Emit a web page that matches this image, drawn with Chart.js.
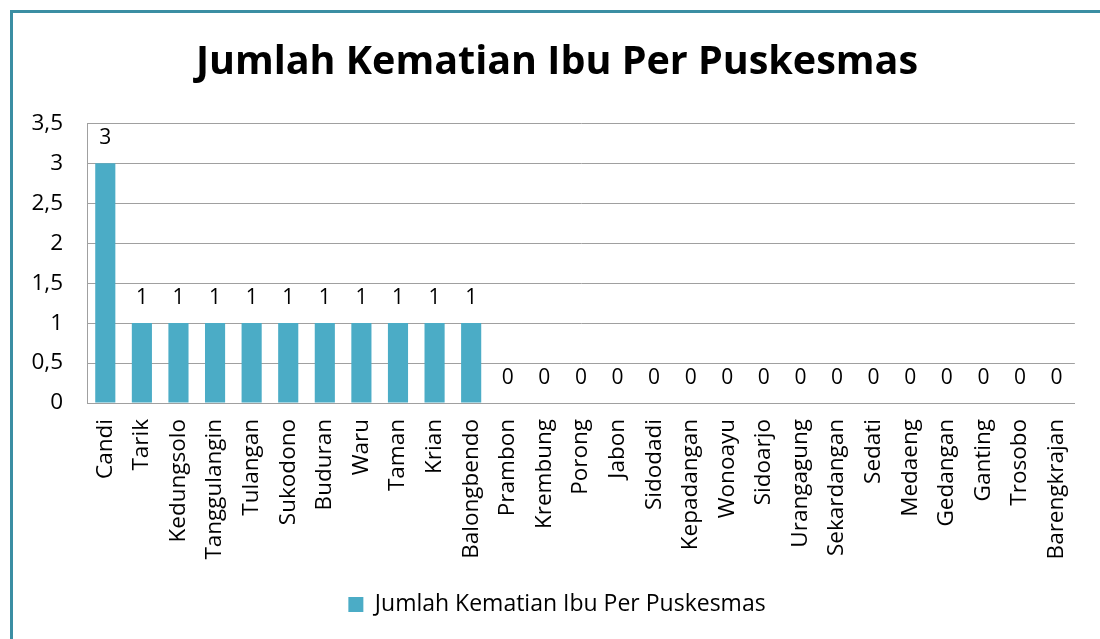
<!DOCTYPE html>
<html>
<head>
<meta charset="utf-8">
<script src="https://cdn.jsdelivr.net/npm/chart.js@4"></script>
<style>
  html, body { margin: 0; padding: 0; background: #fff; overflow: hidden; }
  #wrap { position: relative; width: 1100px; height: 639px; overflow: hidden; }
  #frame { position: absolute; left: 10px; top: 10px; width: 1200px; height: 800px; border: 3px solid #3b8ea3; box-sizing: border-box; }
  #myChart { position: absolute; left: 0; top: 0; }
</style>
</head>
<body>
<div id="wrap">
  <div id="frame"></div>
  <canvas id="myChart" width="1100" height="639"></canvas>
</div>
<script>
var labels = ['Candi', 'Tarik', 'Kedungsolo', 'Tanggulangin', 'Tulangan', 'Sukodono', 'Buduran', 'Waru', 'Taman', 'Krian', 'Balongbendo',
  'Prambon', 'Krembung', 'Porong', 'Jabon', 'Sidodadi', 'Kepadangan', 'Wonoayu', 'Sidoarjo', 'Urangagung', 'Sekardangan',
  'Sedati', 'Medaeng', 'Gedangan', 'Ganting', 'Trosobo', 'Barengkrajan']
var data = [3, 1, 1, 1, 1, 1, 1, 1, 1, 1, 1, 0, 0, 0, 0, 0, 0, 0, 0, 0, 0, 0, 0, 0, 0, 0, 0]
var seriesName = 'Jumlah Kematian Ibu Per Puskesmas'
var chartTitle = 'Jumlah Kematian Ibu Per Puskesmas'

var fontFam = "'Open Sans', 'DejaVu Sans', sans-serif"

// value labels above each bar
var valueLabels = {
  id: 'valueLabels',
  afterDatasetsDraw: function(chart) {
    var c = chart.ctx
    var meta = chart.getDatasetMeta(0)
    c.save()
    c.font = '21px ' + fontFam
    c.fillStyle = '#000'
    c.textAlign = 'center'
    c.textBaseline = 'middle'
    meta.data.forEach(function(bar, i) {
      c.fillText(String(data[i]), bar.x, bar.y - 25)
    })
    c.restore()
  }
}

ctx = document.getElementById('myChart')

chart = new Chart(ctx, {
  type: 'bar',
  data: {
    labels: labels,
    datasets: [{
      label: seriesName,
      data: data,
      backgroundColor: '#4bacc6',
      borderWidth: 0,
      barPercentage: 0.55,
      categoryPercentage: 1
    }]
  },
  options: {
    responsive: false,
    animation: false,
    layout: { padding: { top: 15, right: 0, bottom: 13, left: 14 } },
    plugins: {
      title: {
        display: true,
        text: chartTitle,
        color: '#000',
        font: { family: fontFam, size: 39.5, weight: 'bold' },
        padding: { top: 24, bottom: 37 }
      },
      legend: {
        position: 'bottom',
        labels: {
          color: '#000',
          font: { family: fontFam, size: 23 },
          boxWidth: 15,
          boxHeight: 15,
          padding: 10
        }
      },
      tooltip: { enabled: false }
    },
    scales: {
      x: {
        grid: { display: false, drawTicks: false },
        border: { display: true, color: '#a0a0a0', width: 1 },
        ticks: {
          color: '#000',
          font: { family: fontFam, size: 22.5 },
          maxRotation: 90,
          minRotation: 90,
          autoSkip: false,
          padding: 16
        },
        afterFit: function(scale) { scale.height = 180 }
      },
      y: {
        min: 0,
        max: 3.5,
        grid: { color: '#a0a0a0', lineWidth: 1, drawTicks: false },
        border: { display: true, color: '#a0a0a0', width: 1 },
        ticks: {
          stepSize: 0.5,
          color: '#000',
          font: { family: fontFam, size: 22.5 },
          padding: 24,
          callback: function(v) { return String(v).replace('.', ',') }
        },
        afterFit: function(scale) { scale.width = 73 }
      },
      // empty right-hand gutter so the plot ends before the frame edge
      yR: {
        type: 'linear',
        position: 'right',
        display: true,
        grid: { display: false, drawTicks: false },
        border: { display: false },
        ticks: { display: false },
        afterFit: function(scale) { scale.width = 24 }
      }
    }
  },
  plugins: [valueLabels]
})
</script>
</body>
</html>
